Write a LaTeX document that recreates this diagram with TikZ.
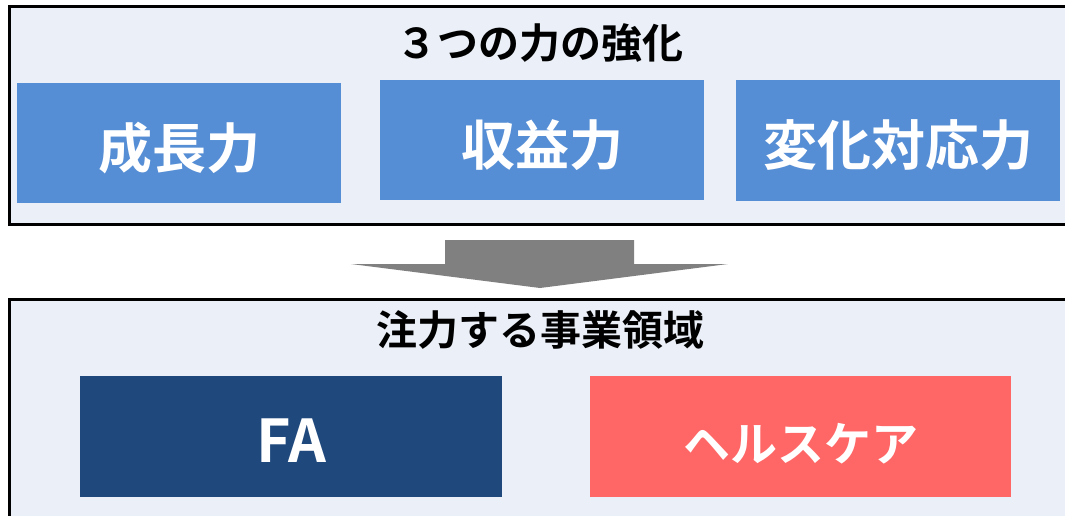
\documentclass[tikz,border=0pt]{standalone}
\usepackage{fontspec}
\newfontfamily\jp{Noto Sans CJK JP}[BoldFont={Noto Sans CJK JP Bold}]
\definecolor{panel}{HTML}{EBF0F8}
\definecolor{bluebox}{HTML}{558ED5}
\definecolor{navybox}{HTML}{1F497D}
\definecolor{redbox}{HTML}{FF6666}
\definecolor{arrowgray}{HTML}{808080}
\begin{document}
\begin{tikzpicture}[x=1pt,y=-1pt,
  panelbox/.style={draw=black, line width=3pt, fill=panel},
  item/.style={fill=#1, inner sep=0pt, minimum height=120pt},
  itemtext/.style={text=white, inner sep=0pt, font=\jp\bfseries\fontsize{54}{54}\selectfont},
  ptitle/.style={text=black, inner sep=0pt, font=\jp\bfseries\fontsize{41}{41}\selectfont}]
\useasboundingbox (0,0) rectangle (1065,516);
\fill[white] (0,0) rectangle (1065,516);
% panels
\draw[panelbox] (9.5,6.5) rectangle (1075,224.5);
\draw[panelbox] (9.5,299.5) rectangle (1075,530);
\node[ptitle] (t1) at (540,43) {３つの力の強化};
\node[item=bluebox, minimum width=324pt, minimum height=120pt] (b1) at (179,143) {};
\node[item=bluebox, minimum width=324pt, minimum height=120pt] (b2) at (542,140) {};
\node[item=bluebox, minimum width=324pt, minimum height=121pt] (b3) at (898,140.5) {};
\node[itemtext] (b1t) at ([yshift=-5pt]b1.center) {成長力};
\node[itemtext] (b2t) at ([yshift=-5pt]b2.center) {収益力};
\node[itemtext] (b3t) at ([yshift=-5pt]b3.center) {変化対応力};
% arrow
\coordinate (a1) at (445,240);
\coordinate (a2) at (634,240);
\coordinate (a3) at (634,264);
\coordinate (a4) at (728,264);
\coordinate (tip) at (540,288);
\coordinate (a5) at (351,264);
\coordinate (a6) at (445,264);
\fill[arrowgray] (a1) -- (a2) -- (a3) -- (a4) -- (tip) -- (a5) -- (a6) -- cycle;
% bottom panel
\node[ptitle] (t2) at (540,330) {注力する事業領域};
\node[item=navybox, minimum width=422pt, minimum height=121pt] (fa) at (291,436.5) {};
\node[item=redbox, minimum width=421pt, minimum height=121pt] (hc) at (800.5,436.5) {};
\node[itemtext, font=\jp\bfseries\fontsize{59}{59}\selectfont] (fat) at ([yshift=-4pt]fa.center) {FA};
\node[itemtext, font=\jp\bfseries\fontsize{47}{47}\selectfont] (hct) at ([yshift=-7pt]hc.center) {ヘルスケア};
\end{tikzpicture}
\end{document}
